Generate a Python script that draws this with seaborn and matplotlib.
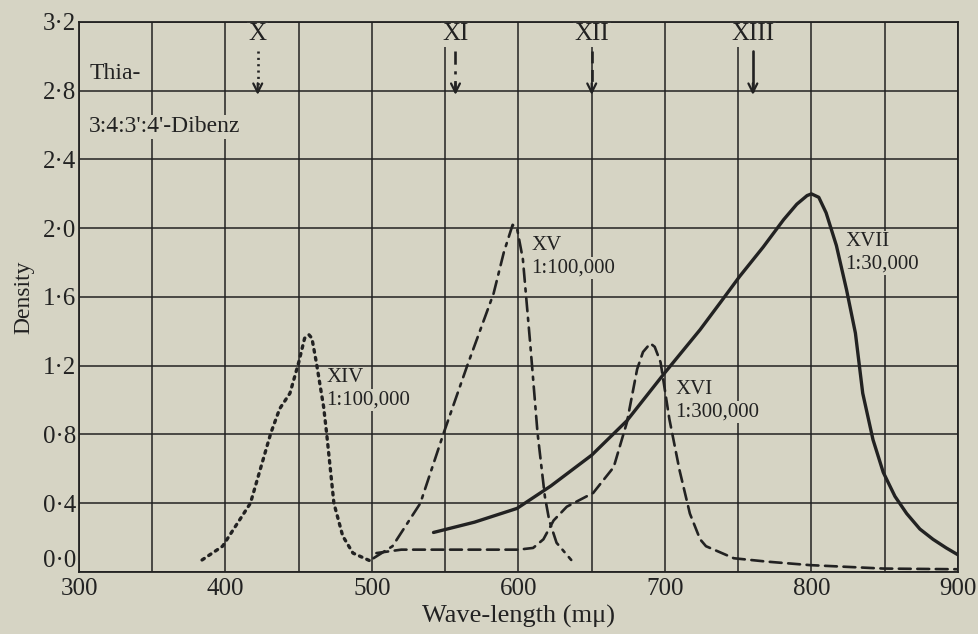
"""Absorption spectra of Thia-3:4:3':4'-dibenz dyes, redrawn from a printed plate."""

import matplotlib

matplotlib.use("Agg")

import matplotlib.pyplot as plt
import seaborn as sns

PAPER = "#d6d4c4"
INK = "#222222"

# curve XIV (dotted), 1:100,000
xiv_nm = [384, 398, 417, 431, 437, 444, 450, 454, 457, 459, 462, 467, 469, 474, 480, 487, 500]
xiv_density = [0.07, 0.15, 0.40, 0.81, 0.95, 1.04, 1.22, 1.36, 1.38, 1.36, 1.22, 0.96, 0.81, 0.40,
               0.21, 0.11, 0.06]

# curve XV (dash-dot), 1:100,000
xv_nm = [501, 514, 533, 549, 565, 583, 590, 596, 599, 603, 608, 613, 618, 621, 626, 636]
xv_density = [0.08, 0.15, 0.40, 0.81, 1.20, 1.62, 1.86, 2.02, 2.00, 1.82, 1.33, 0.81, 0.44, 0.30,
              0.17, 0.07]

# curve XVI (dashed), 1:300,000
xvi_nm = [503, 520, 560, 600, 610, 617, 624, 633, 651, 665, 674, 681, 685, 690, 693, 697, 703, 710,
          717, 724, 728, 747, 770, 799, 849, 900]
xvi_density = [0.11, 0.13, 0.13, 0.13, 0.14, 0.19, 0.30, 0.38, 0.46, 0.61, 0.87, 1.18, 1.28, 1.33,
               1.31, 1.22, 0.89, 0.59, 0.34, 0.19, 0.15, 0.08, 0.06, 0.04, 0.02, 0.016]

# curve XVII (solid), 1:30,000
xvii_nm = [542, 570, 599, 622, 650, 674, 699, 724, 738, 751, 767, 781, 790, 797, 800, 805, 810, 817,
           824, 830, 835, 842, 849, 857, 865, 874, 883, 892, 900]
xvii_density = [0.23, 0.29, 0.37, 0.50, 0.68, 0.88, 1.15, 1.41, 1.57, 1.72, 1.89, 2.05, 2.14, 2.19,
                2.20, 2.18, 2.09, 1.90, 1.64, 1.39, 1.04, 0.77, 0.58, 0.44, 0.34, 0.25, 0.19, 0.14,
                0.10]

# arrows marking the reference dyes X-XIII
arrow_nm = [422, 557, 650, 760]
arrow_labels = ["X", "XI", "XII", "XIII"]

x_ticks = [300, 400, 500, 600, 700, 800, 900]
y_ticks = [0.0, 0.4, 0.8, 1.2, 1.6, 2.0, 2.4, 2.8, 3.2]
y_ticklabels = ["0·0", "0·4", "0·8", "1·2", "1·6", "2·0", "2·4", "2·8", "3·2"]

DOTTED = (0, (0.8, 1.6))
DASHDOT = (0, (5, 2.5, 1.2, 2.5))
DASHED = (0, (4.5, 2.5))
SOLID = "-"
STYLES = [DOTTED, DASHDOT, DASHED, SOLID]

sns.set_theme(style="white")
plt.rcParams["font.family"] = ["Liberation Serif", "DejaVu Serif"]

fig = plt.figure(figsize=(9.79, 6.34), dpi=100, facecolor=PAPER)
ax = fig.add_axes([0.0807, 0.0978, 0.8978, 0.8675], facecolor=PAPER)

# grid: vertical every 50 nm, horizontal every 0.4
for x in range(300, 901, 50):
    ax.axvline(x, color=INK, lw=1.1, zorder=1)
for y in y_ticks:
    ax.axhline(y, color=INK, lw=1.1, zorder=1)

curves = [
    (xiv_nm, xiv_density, DOTTED, 2.4),
    (xv_nm, xv_density, DASHDOT, 1.9),
    (xvi_nm, xvi_density, DASHED, 1.9),
    (xvii_nm, xvii_density, SOLID, 2.4),
]
for nm, dens, ls, lw in curves:
    sns.lineplot(x=nm, y=dens, ax=ax, color=INK, linestyle=ls, lw=lw,
                 dash_capstyle="round", zorder=3)

# labels sit above the grid but under the frame and the curves
box = dict(facecolor=PAPER, edgecolor="none", pad=1.0)
for nm, label, ls in zip(arrow_nm, arrow_labels, STYLES):
    ax.plot([nm, nm], [3.03, 2.80], color=INK, lw=1.9, linestyle=ls, zorder=3)
    ax.annotate("", xy=(nm, 2.76), xytext=(nm, 2.86),
                arrowprops=dict(arrowstyle="->", color=INK, lw=1.6,
                                mutation_scale=16), zorder=4)
    ax.text(nm, 3.13, label, ha="center", va="center", fontsize=18,
            color=INK, bbox=box, zorder=2)

label_kw = dict(ha="left", va="center", color=INK, bbox=box, zorder=2)
ax.text(307, 2.90, "Thia-", fontsize=17, **label_kw)
ax.text(307, 2.59, "3:4:3':4'-Dibenz", fontsize=17, **label_kw)
ax.text(469, 1.13, "XIV", fontsize=15, **label_kw)
ax.text(469, 1.00, "1:100,000", fontsize=15, **label_kw)
ax.text(609, 1.90, "XV", fontsize=15, **label_kw)
ax.text(609, 1.77, "1:100,000", fontsize=15, **label_kw)
ax.text(707, 1.06, "XVI", fontsize=15, **label_kw)
ax.text(707, 0.93, "1:300,000", fontsize=15, **label_kw)
ax.text(823, 1.92, "XVII", fontsize=15, **label_kw)
ax.text(823, 1.79, "1:30,000", fontsize=15, **label_kw)

ax.set_xlim(300, 900)
ax.set_ylim(0, 3.2)
ax.set_xticks(x_ticks)
ax.set_xticklabels([str(t) for t in x_ticks])
ax.set_yticks(y_ticks)
ax.set_yticklabels(y_ticklabels)
ax.tick_params(length=0, labelsize=18, colors=INK)
ax.tick_params(axis="x", pad=4)
ax.tick_params(axis="y", pad=2)
ax.get_yticklabels()[0].set_va("bottom")
for spine in ax.spines.values():
    spine.set_color(INK)
    spine.set_linewidth(1.3)
    spine.set_zorder(2.5)

ax.set_xlabel("Wave-length (mμ)", fontsize=19, color=INK, labelpad=4)
ax.set_ylabel("Density", fontsize=17, color=INK, labelpad=6)

fig.savefig("out.png", dpi=100, facecolor=PAPER)
